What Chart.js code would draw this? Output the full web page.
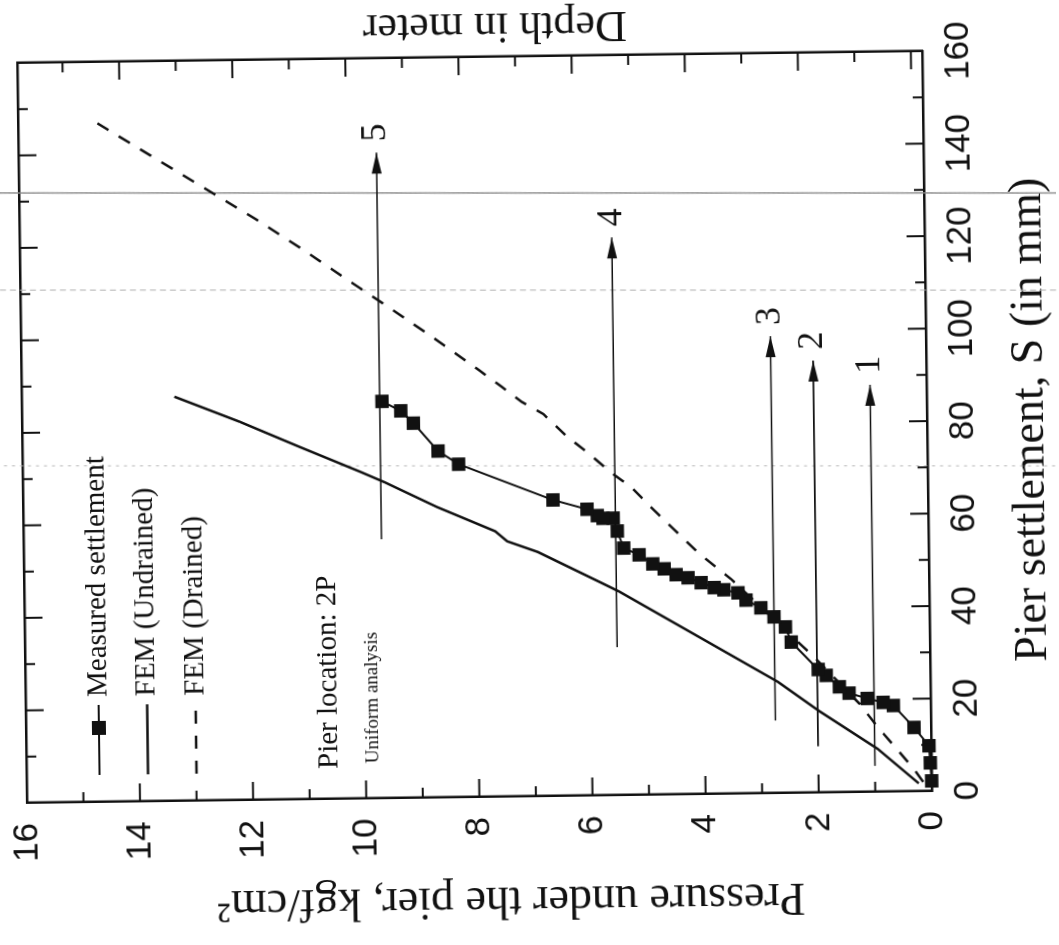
<!DOCTYPE html>
<html>
<head>
<meta charset="utf-8">
<script src="https://cdn.jsdelivr.net/npm/chart.js@4.4.1/dist/chart.umd.min.js"></script>
<style>
  html, body { margin: 0; padding: 0; background: #fff; overflow: hidden; }
  /* scanned page sits a little crooked */
  .scan {
    position: absolute;
    left: 0;
    top: 0;
    width: 1059px;
    height: 945px;
    transform-origin: 475px 425px;
    transform: rotate(-0.75deg);
  }
  /* the figure is drawn upright and turned a quarter turn, like the scanned page */
  .page {
    position: absolute;
    left: 0;
    top: 0;
    width: 945px;
    height: 1059px;
    transform-origin: 0 0;
    transform: translateY(945px) rotate(-90deg);
  }
</style>
</head>
<body>
<div class="scan"><div class="page"><canvas id="pier_chart" width="945" height="1059"></canvas></div></div>
<script>
// ! Data (settlement in mm, pressure in kgf/cm2)
const measuredS = [2.2, 6.1, 9.8, 13.8, 18.6, 19.3, 20.2, 21.4, 22.8, 25.3, 26.6, 32.6, 35.9, 38.1, 40.1, 41.8, 43.4, 44.1, 44.6, 45.7, 46.8, 47.5, 48.8, 49.9, 51.9, 53.4, 57.1, 59.9, 59.9, 60.5, 61.9, 64.0, 72.0, 74.9, 81.0, 83.7, 85.8];
const measuredP = [0.0, 0.02, 0.04, 0.3, 0.66, 0.84, 1.12, 1.44, 1.61, 1.84, 1.98, 2.45, 2.55, 2.75, 2.98, 3.24, 3.38, 3.63, 3.8, 4.03, 4.26, 4.47, 4.68, 4.88, 5.12, 5.39, 5.5, 5.57, 5.75, 5.85, 6.03, 6.63, 8.29, 8.65, 9.08, 9.3, 9.63];

const undrainedS = [1.7, 9.3, 17.6, 24.0, 44.0, 46.0, 52.8, 55.2, 57.4, 62.8, 68.3, 70.7, 76.2, 81.8, 87.4];
const undrainedP = [0.23, 0.95, 1.97, 2.69, 5.48, 5.8, 6.91, 7.45, 7.66, 8.68, 9.6, 10.04, 11.1, 12.15, 13.3];

const drainedS = [2.0, 4.8, 9.2, 13.8, 19.1, 29.3, 46.4, 51.8, 56.6, 61.3, 66.5, 69.8, 74.2, 77.8, 82.6, 85.3, 88.7, 92.2, 99.1, 105.8, 112.5, 118.9, 125.4, 147.5];
const drainedP = [0.15, 0.31, 0.61, 0.93, 1.26, 2.05, 3.5, 4.04, 4.44, 4.83, 5.24, 5.6, 6.01, 6.38, 6.78, 7.16, 7.52, 7.9, 8.67, 9.45, 10.25, 11.0, 11.8, 14.7];

// load stage arrows
const arrowLabels = ["1", "2", "3", "4", "5"];
const arrowP = [1.0, 2.0, 2.75, 5.53, 9.67];
const arrowStartS = [5.6, 10, 15.7, 32, 56];
const arrowEndS = [88, 93.4, 98.8, 120.6, 139.6];

// ticks
const settlementTicks = [0, 20, 40, 60, 80, 100, 120, 140, 160];
const settlementMinor = [10, 30, 50, 70, 90, 110, 130, 150];
const pressureTicks = [0, 2, 4, 6, 8, 10, 12, 14, 16];
const pressureMinor = [1, 3, 5, 7, 9, 11, 13, 15];
const depthTicks = [0, 2, 4, 6, 8, 10, 12, 14];
const depthMinor = [1, 3, 5, 7, 9, 11, 13, 15];

const legendLabels = ["Measured settlement", "FEM (Undrained)", "FEM (Drained)"];

const ink = "#111";
const serif = "'Liberation Serif', 'Times New Roman', serif";
const narrow = "'Liberation Sans Narrow', 'Liberation Sans', Arial, sans-serif";

const toPoints = (xs, ys) => xs.map((x, i) => ({ x: x, y: ys[i] }));

let datasets = [
  {
    label: legendLabels[0],
    data: toPoints(measuredS, measuredP),
    showLine: true,
    borderColor: ink,
    borderWidth: 2,
    pointStyle: "rect",
    pointRadius: 9.5,
    pointBackgroundColor: ink,
    pointBorderWidth: 0,
    clip: false,
  },
  {
    label: legendLabels[1],
    data: toPoints(undrainedS, undrainedP),
    showLine: true,
    borderColor: ink,
    borderWidth: 2.5,
    pointRadius: 0,
  },
  {
    label: legendLabels[2],
    data: toPoints(drainedS, drainedP),
    showLine: true,
    borderColor: ink,
    borderWidth: 2.5,
    borderDash: [13, 12],
    pointRadius: 0,
  },
];

arrowLabels.forEach((name, i) => {
  datasets.push({
    label: "arrow " + name,
    arrowText: name,
    data: [
      { x: arrowStartS[i], y: arrowP[i] },
      { x: arrowEndS[i], y: arrowP[i] },
    ],
    showLine: true,
    borderColor: ink,
    borderWidth: 1.6,
    pointRadius: 0,
  });
});

//! faint copier streaks crossing the page (straight on the sheet, not on the figure)
const streaks = {
  id: "streaks",
  beforeDatasetsDraw(chart) {
    const { ctx, scales } = chart;
    ctx.save();
    ctx.translate(520, 475);
    ctx.rotate((0.75 * Math.PI) / 180);
    ctx.translate(-520, -475);
    [[130.6, [], 1.4, "#8a8a8a"], [109.6, [6, 4], 1, "#b0b0b0"], [71.6, [3, 5], 1, "#b8b8b8"]].forEach(([v, dash, w, c]) => {
      const x = scales.x.getPixelForValue(v);
      ctx.strokeStyle = c;
      ctx.lineWidth = w;
      ctx.setLineDash(dash);
      ctx.beginPath();
      ctx.moveTo(x, -20);
      ctx.lineTo(x, chart.height + 20);
      ctx.stroke();
    });
    ctx.restore();
  },
};

//! ticks pointing inside the frame
const inwardTicks = {
  id: "inwardTicks",
  afterDraw(chart) {
    const { ctx, chartArea: a, scales } = chart;
    ctx.save();
    ctx.strokeStyle = ink;
    ctx.lineWidth = 2;
    const line = (x1, y1, x2, y2) => {
      ctx.beginPath();
      ctx.moveTo(x1, y1);
      ctx.lineTo(x2, y2);
      ctx.stroke();
    };
    const marks = (major, minor, fn) => {
      major.forEach((v) => fn(v, 18));
      minor.forEach((v) => fn(v, 10));
    };
    marks(settlementTicks.slice(1, -1), settlementMinor, (v, len) => {
      const x = scales.x.getPixelForValue(v);
      line(x, a.bottom, x, a.bottom - len);
      line(x, a.top, x, a.top + len);
    });
    marks(pressureTicks.slice(1, -1), pressureMinor, (v, len) => {
      const y = scales.y.getPixelForValue(v);
      line(a.left, y, a.left + len, y);
    });
    marks(depthTicks, depthMinor, (v, len) => {
      const y = scales.y2.getPixelForValue(v);
      line(a.right, y, a.right - len, y);
    });

    // side titles (both read upward)
    ctx.fillStyle = ink;
    ctx.textAlign = "center";
    ctx.textBaseline = "middle";
    ctx.save();
    ctx.font = "46px " + serif;
    ctx.translate(45, scales.y.getPixelForValue(7.46));
    ctx.rotate(-Math.PI / 2);
    ctx.fillText("Pressure under the pier, kgf/cm\u00B2", 0, 0);
    ctx.restore();
    ctx.save();
    ctx.font = "44px " + serif;
    ctx.translate(919, scales.y.getPixelForValue(7.55));
    ctx.rotate(-Math.PI / 2);
    ctx.fillText("Depth in meter", 0, 0);
    ctx.restore();
    ctx.restore();
  },
};

//! arrows, legend and notes
const notes = {
  id: "notes",
  afterDatasetsDraw(chart) {
    const { ctx, chartArea: a } = chart;
    ctx.save();
    ctx.fillStyle = ink;
    ctx.strokeStyle = ink;

    chart.data.datasets.forEach((ds, i) => {
      if (!ds.arrowText) return;
      const tip = chart.getDatasetMeta(i).data[1];
      ctx.beginPath();
      ctx.moveTo(tip.x, tip.y);
      ctx.lineTo(tip.x - 21, tip.y - 5);
      ctx.lineTo(tip.x - 21, tip.y + 5);
      ctx.closePath();
      ctx.fill();
      ctx.font = "36px " + serif;
      ctx.textAlign = "left";
      ctx.textBaseline = "middle";
      ctx.fillText(ds.arrowText, tip.x + 11, tip.y);
    });

    // legend
    ctx.font = "29px " + serif;
    ctx.textAlign = "left";
    ctx.textBaseline = "middle";
    legendLabels.forEach((label, i) => {
      const ds = chart.data.datasets[i];
      const y = a.top + 73 + i * 48.5;
      const x0 = a.left + 27;
      const x1 = a.left + 97;
      ctx.lineWidth = ds.borderWidth;
      ctx.setLineDash(ds.borderDash || []);
      ctx.beginPath();
      ctx.moveTo(x0, y);
      ctx.lineTo(x1, y);
      ctx.stroke();
      ctx.setLineDash([]);
      if (ds.pointRadius) {
        ctx.fillRect(x0 + 40, y - 7, 14, 14);
      }
      ctx.fillText(label, x1 + 8, y);
    });

    ctx.font = "29px " + serif;
    ctx.fillText("Pier location: 2P", a.left + 30, a.top + 303);
    ctx.font = "19px " + serif;
    ctx.fillText("Uniform analysis", a.left + 35, a.top + 347);
    ctx.restore();
  },
};

// fixed frame sizes, no extra padding from the tick labels
const fixBox = (w, h) => (s) => {
  if (w !== null) s.width = w;
  if (h !== null) s.height = h;
  s.paddingTop = 0;
  s.paddingBottom = 0;
  s.paddingLeft = 0;
  s.paddingRight = 0;
};

let ctx = document.getElementById("pier_chart");
new Chart(ctx, {
  type: "scatter",
  data: { datasets: datasets },
  plugins: [streaks, inwardTicks, notes],
  options: {
    responsive: false,
    animation: false,
    devicePixelRatio: 1,
    layout: { padding: 0, autoPadding: false },
    plugins: {
      legend: { display: false },
      tooltip: { enabled: false },
    },
    scales: {
      x: {
        type: "linear",
        position: "bottom",
        min: 0,
        max: 160,
        afterBuildTicks: (s) => { s.ticks = settlementTicks.map((v) => ({ value: v })); },
        afterFit: fixBox(null, 132),
        grid: { display: false, drawTicks: false },
        border: { display: true, color: ink, width: 2.5 },
        ticks: { color: ink, padding: 15, font: { family: narrow, size: 35 }, maxRotation: 0 },
        title: {
          display: true,
          text: "Pier settlement, S (in mm)",
          color: ink,
          font: { family: serif, size: 46 },
          padding: 0,
        },
      },
      x2: {
        type: "linear",
        position: "top",
        min: 0,
        max: 160,
        afterFit: fixBox(null, 22),
        grid: { display: false, drawTicks: false },
        border: { display: true, color: ink, width: 2.5 },
        ticks: { display: false },
      },
      y: {
        type: "linear",
        position: "left",
        min: 0,
        max: 16,
        afterBuildTicks: (s) => { s.ticks = pressureTicks.map((v) => ({ value: v })); },
        afterFit: fixBox(148, null),
        grid: { display: false, drawTicks: false },
        border: { display: true, color: ink, width: 2.5 },
        ticks: { color: ink, padding: 20, font: { family: narrow, size: 35 } },
      },
      y2: {
        type: "linear",
        position: "right",
        min: -0.2,
        max: 15.8,
        afterFit: fixBox(57, null),
        grid: { display: false, drawTicks: false },
        border: { display: true, color: ink, width: 2.5 },
        ticks: { display: false },
      },
    },
  },
});
</script>
</body>
</html>
